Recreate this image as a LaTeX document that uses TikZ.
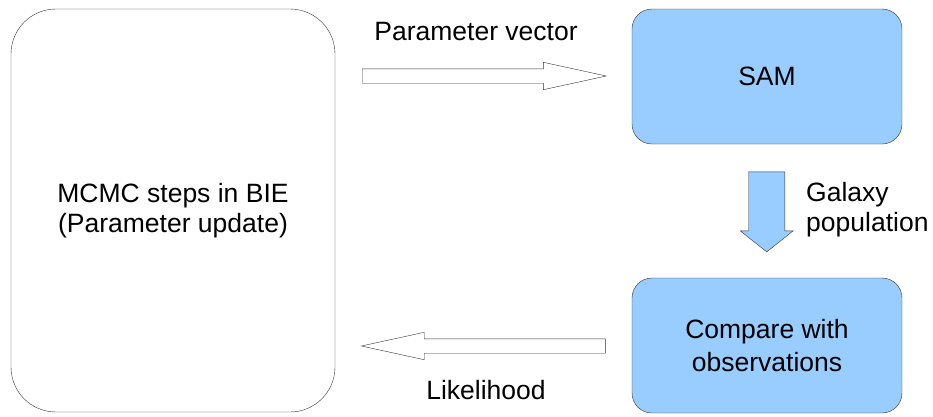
\documentclass[tikz,border=0pt]{standalone}
\usepackage{fontspec}
\setmainfont{Liberation Sans}
\usetikzlibrary{shapes.arrows}
\definecolor{samblue}{HTML}{99CCFF}
\definecolor{edge}{HTML}{333333}
\tikzset{>=latex}
\tikzset{
    bigbox/.style={draw=edge, rounded corners=45pt, minimum width=324pt, minimum height=403pt, align=center},
    modbox/.style={draw=edge, fill=samblue, rounded corners=20pt, minimum width=270pt, minimum height=135pt, align=center},
    fatarrow/.style={single arrow, draw=edge, fill=white, inner xsep=0pt, inner ysep=7pt, minimum height=244pt,
        minimum width=27pt, single arrow head extend=6.5pt, single arrow tip angle=24.6, anchor=tail},
}

\begin{document}
\begin{tikzpicture}[x=1pt, y=-1pt, font=\fontsize{26.5}{30}\selectfont]
    \useasboundingbox (0,0) rectangle (933,416);
    \node[bigbox](mcmc) at (173,210.5){MCMC steps in BIE\\(Parameter update)};
    \node[modbox](sam) at (767,76.5){SAM};
    \node[modbox, font=\fontsize{26.5}{33}\selectfont](comp) at (767,345.5){Compare with\\observations};
    % block arrows between the boxes
    \node[fatarrow](pvarrow) at (362,76){};
    \node[fatarrow, rotate=180](lharrow) at (605.6,346){};
    \node[fatarrow, fill=samblue, inner ysep=14pt, minimum height=80pt, minimum width=53pt,
        single arrow tip angle=103, rotate=-90](gparrow) at (766.7,171.7){};
    \node[anchor=base](pvlabel) at (476,40){Parameter vector};
    \node[anchor=base](lhlabel) at (486,399){Likelihood};
    \node[anchor=base west, align=left, inner xsep=0pt](gplabel) at (806,231.7){Galaxy\\population};
\end{tikzpicture}
\end{document}
